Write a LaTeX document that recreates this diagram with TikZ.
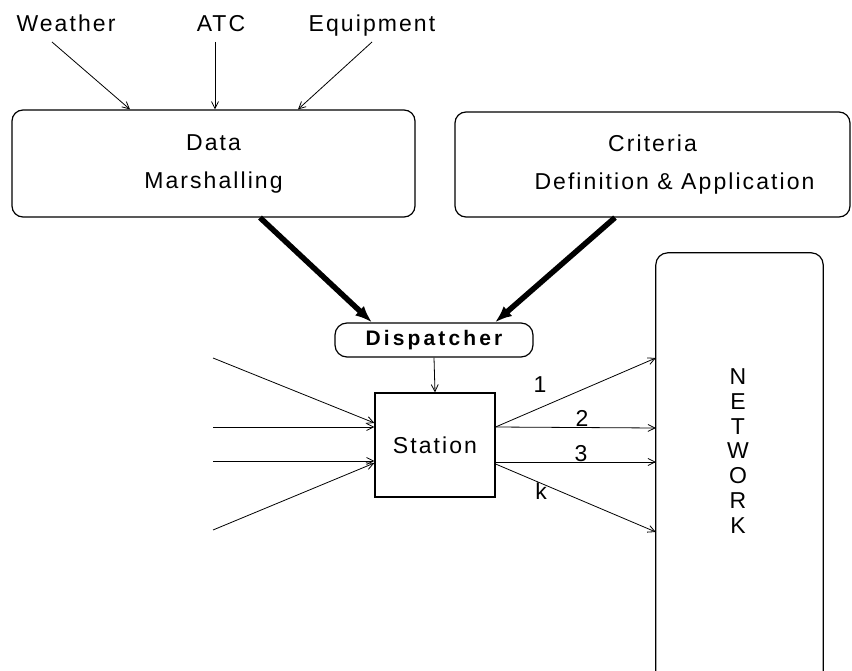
\documentclass[tikz,border=0pt]{standalone}
\usepackage{fontspec}
\setmainfont{Liberation Sans}[LetterSpace=9]
\newfontfamily\dispfont{Liberation Sans}[LetterSpace=15]
\usetikzlibrary{arrows.meta}

\begin{document}
\begin{tikzpicture}[x=1pt,y=-1pt,
  box/.style={draw,line width=1.2pt,inner sep=0pt,align=center,
    font=\fontsize{23}{38}\selectfont},
  rbox/.style={box,rounded corners=11pt},
  lbl/.style={inner sep=1pt,font=\fontsize{23}{27}\selectfont},
  toplbl/.style={lbl,anchor=base},
  thinarrow/.style={line width=0.8pt,-{Straight Barb[length=7pt,width=7pt]}},
  heavyarrow/.style={line width=5.5pt,-{Latex[length=17pt,width=13pt]}},
  ]
\useasboundingbox (0,0) rectangle (852,671);

% main blocks
\node[rbox,minimum width=403pt,minimum height=107pt] (dm) at (213.5,163.5)
  {Data\\Marshalling};
\node[rbox,minimum width=395pt,minimum height=105pt] (cr) at (652.5,164.5)
  {Criteria\\\hspace*{44pt}Definition \& Application};
\node[rbox,rounded corners=12pt,minimum width=198pt,minimum height=34pt,
  font=\dispfont\bfseries\fontsize{21}{24}\selectfont] (disp) at (434,340) {Dispatcher};
\node[box,minimum width=120pt,minimum height=104pt] (st) at (435,445) {Station};

% network block, open at the bottom edge
\node[minimum width=167pt,minimum height=418pt,inner sep=0pt] (net) at (739.5,462) {};
\draw[line width=1.2pt,rounded corners=12pt]
  (net.south west) -- (net.north west) -- (net.north east) -- (net.south east);
\node[font=\fontsize{23}{24.7}\selectfont,align=center,inner sep=0pt] (netlbl) at (738,451)
  {N\\E\\T\\W\\O\\R\\K};

% external inputs
\node[toplbl] (wx) at (66,32) {Weather};
\node[toplbl] (atc) at (221,32) {ATC};
\node[toplbl] (eq) at (372,32) {Equipment};
\draw[thinarrow] ([xshift=-14pt,yshift=-10pt]wx.base) -- ([xshift=-83.5pt]dm.north);
\draw[thinarrow] ([xshift=-6pt,yshift=-10pt]atc.base) -- ([xshift=1.5pt]dm.north);
\draw[thinarrow] ([yshift=-10pt]eq.base) -- ([xshift=84.5pt]dm.north);

% heavy flows into the dispatcher
\draw[heavyarrow] ([xshift=46.5pt]dm.south) -- ([xshift=-62pt]disp.north);
\draw[heavyarrow] ([xshift=-37.5pt]cr.south) -- ([xshift=61pt]disp.north);
\draw[thinarrow] (disp.south) -- (st.north);

% station inputs
\coordinate (in1) at (213,358);
\coordinate (in2) at (213,427);
\coordinate (in3) at (213,461);
\coordinate (in4) at (213,530);
\draw[thinarrow] (in1) -- ([yshift=22pt]st.west);
\draw[thinarrow] (in2) -- ([yshift=18pt]st.west);
\draw[thinarrow] (in3) -- ([yshift=-16pt]st.west);
\draw[thinarrow] (in4) -- ([yshift=-18pt]st.west);

% station outputs to the network
\draw[thinarrow] ([yshift=18pt]st.east) -- ([yshift=104pt]net.west);
\draw[thinarrow] ([yshift=18pt]st.east) -- ([yshift=34pt]net.west);
\draw[thinarrow] ([yshift=-17pt]st.east) -- ([yshift=0pt]net.west);
\draw[thinarrow] ([yshift=-19pt]st.east) -- ([yshift=-70pt]net.west);
\node[lbl] (o1) at (540,385) {1};
\node[lbl] (o2) at (582,418) {2};
\node[lbl] (o3) at (581,454) {3};
\node[lbl] (ok) at (541,491) {k};
\end{tikzpicture}
\end{document}
